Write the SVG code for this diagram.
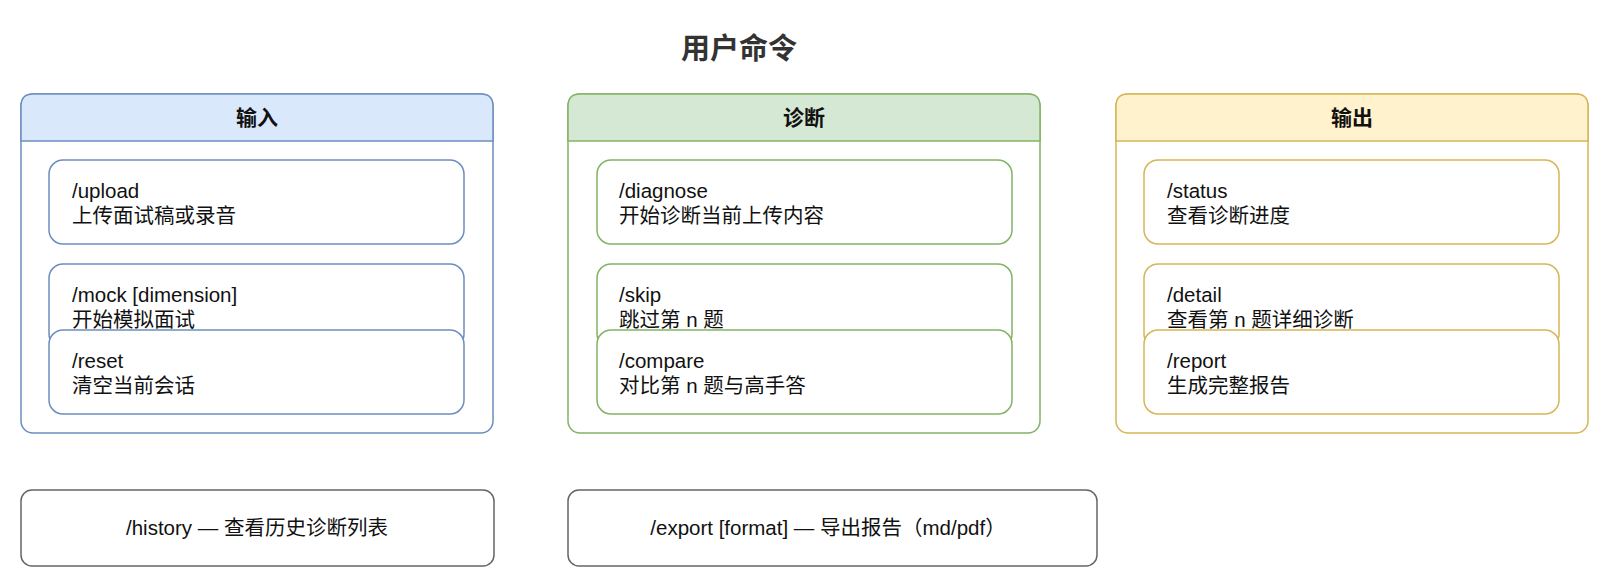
<svg xmlns="http://www.w3.org/2000/svg" width="1600" height="578" viewBox="0 0 1600 578">
<style>
text{font-family:"Liberation Sans","Noto Sans CJK SC",sans-serif;fill:#111;}
.title{font-size:29px;font-weight:bold;fill:#333;text-anchor:middle;}
.hdr{font-size:21px;font-weight:bold;text-anchor:middle;}
.cmd{font-size:20.5px;}
.mid{font-size:20.5px;text-anchor:middle;}
.cont{fill:#fff;stroke-width:1.5;}
.item{fill:#fff;stroke-width:1.5;}
.blue{stroke:#6c8ebf;}
.green{stroke:#82b366;}
.yellow{stroke:#d6b656;}
.plain{fill:#fff;stroke:#666;stroke-width:1.5;}
</style>
<rect width="1600" height="578" fill="#fff"/>
<text class="title" x="739" y="59">用户命令</text>

<g id="input">
<rect class="cont blue" x="21" y="94" width="472" height="339" rx="12"/>
<path d="M21 141 V106 Q21 94 33 94 H481 Q493 94 493 106 V141 Z" fill="#dae8fc" stroke="#6c8ebf" stroke-width="1.5"/>
<text class="hdr" x="257" y="125">输入</text>
<g id="upload"><rect class="item blue" x="49" y="160" width="415" height="84" rx="14"/>
<text class="cmd" x="72" y="198">/upload</text><text class="cmd" x="72" y="223">上传面试稿或录音</text></g>
<g id="mock"><rect class="item blue" x="49" y="264" width="415" height="84" rx="14"/>
<text class="cmd" x="72" y="302">/mock [dimension]</text><text class="cmd" x="72" y="327">开始模拟面试</text></g>
<g id="reset"><rect class="item blue" x="49" y="330" width="415" height="84" rx="14"/>
<text class="cmd" x="72" y="368">/reset</text><text class="cmd" x="72" y="393">清空当前会话</text></g>
</g>

<g id="diagnose-group">
<rect class="cont green" x="568" y="94" width="472" height="339" rx="12"/>
<path d="M568 141 V106 Q568 94 580 94 H1028 Q1040 94 1040 106 V141 Z" fill="#d5e8d4" stroke="#82b366" stroke-width="1.5"/>
<text class="hdr" x="804" y="125">诊断</text>
<g id="diagnose"><rect class="item green" x="597" y="160" width="415" height="84" rx="14"/>
<text class="cmd" x="619" y="198">/diagnose</text><text class="cmd" x="619" y="223">开始诊断当前上传内容</text></g>
<g id="skip"><rect class="item green" x="597" y="264" width="415" height="84" rx="14"/>
<text class="cmd" x="619" y="302">/skip</text><text class="cmd" x="619" y="327">跳过第 n 题</text></g>
<g id="compare"><rect class="item green" x="597" y="330" width="415" height="84" rx="14"/>
<text class="cmd" x="619" y="368">/compare</text><text class="cmd" x="619" y="393">对比第 n 题与高手答</text></g>
</g>

<g id="output">
<rect class="cont yellow" x="1116" y="94" width="472" height="339" rx="12"/>
<path d="M1116 141 V106 Q1116 94 1128 94 H1576 Q1588 94 1588 106 V141 Z" fill="#fff2cc" stroke="#d6b656" stroke-width="1.5"/>
<text class="hdr" x="1352" y="125">输出</text>
<g id="status"><rect class="item yellow" x="1144" y="160" width="415" height="84" rx="14"/>
<text class="cmd" x="1167" y="198">/status</text><text class="cmd" x="1167" y="223">查看诊断进度</text></g>
<g id="detail"><rect class="item yellow" x="1144" y="264" width="415" height="84" rx="14"/>
<text class="cmd" x="1167" y="302">/detail</text><text class="cmd" x="1167" y="327">查看第 n 题详细诊断</text></g>
<g id="report"><rect class="item yellow" x="1144" y="330" width="415" height="84" rx="14"/>
<text class="cmd" x="1167" y="368">/report</text><text class="cmd" x="1167" y="393">生成完整报告</text></g>
</g>

<g id="history">
<rect class="plain" x="21" y="490" width="473" height="76" rx="11"/>
<text class="mid" x="257" y="535">/history — 查看历史诊断列表</text>
</g>
<g id="export">
<rect class="plain" x="568" y="490" width="529" height="76" rx="11"/>
<text class="mid" x="828" y="535">/export [format] — 导出报告（md/pdf）</text>
</g>
<g id="connectors"></g>
</svg>
